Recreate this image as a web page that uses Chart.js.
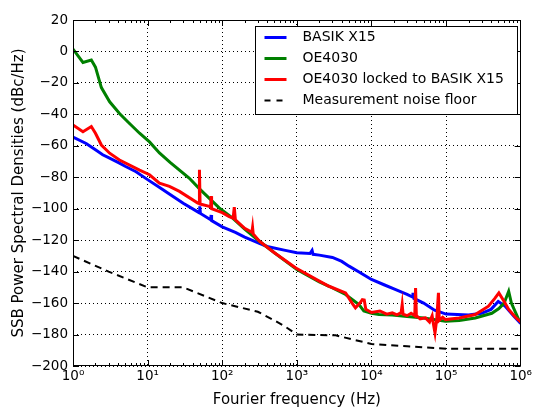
<!DOCTYPE html>
<html>
<head>
<meta charset="utf-8">
<script src="https://cdn.jsdelivr.net/npm/chart.js@4.4.1/dist/chart.umd.min.js"></script>
<style>
  html, body { margin: 0; padding: 0; background: #fff; }
</style>
</head>
<body>
<canvas id="psdChart" width="534" height="407"></canvas>
<script>
// series names (legend order)
var seriesNames = ['BASIK X15', 'OE4030', 'OE4030 locked to BASIK X15', 'Measurement noise floor'];

// BASIK X15
var basikFreq = [1, 1.5, 2, 2.5, 3, 4.2, 5, 7, 10, 15, 20, 30, 49, 50, 51, 70, 71, 72, 100, 150, 200, 315, 400, 700, 1000, 1500, 1600, 1650, 2000, 3000, 4000, 5000, 7000, 10000, 15000, 20000, 30000, 35000, 36000, 37000, 50000, 70000, 100000, 200000, 300000, 400000, 500000, 560000, 620000, 800000, 1000000];
var basikDbc = [-54.5, -58.5, -62.5, -65.7, -67.5, -71, -73, -76.5, -81.5, -87, -91, -96.5, -102.5, -98.5, -103, -107, -104, -107.5, -111.5, -115, -118, -122, -124, -126.5, -128, -128.5, -126.5, -129, -129.5, -131, -133.5, -136.5, -140.5, -145, -148.5, -151, -154.5, -156, -153.5, -157, -160, -164.5, -167, -167.5, -166.5, -164, -159, -160.5, -162, -168, -173];

// OE4030 free running
var oeFreq = [1, 1.36, 1.76, 2, 2.4, 3.1, 4.2, 5.5, 7.8, 10.6, 14.4, 20, 36, 50, 91, 138, 200, 315, 500, 1000, 2000, 2700, 4500, 6800, 7900, 10000, 12600, 19000, 30000, 50000, 98000, 150000, 246000, 410000, 510000, 600000, 690000, 750000, 940000, 1000000];
var oeDbc = [1.5, -7, -5.5, -10, -23, -32, -39.5, -45, -52, -57.5, -64.5, -70.5, -80.5, -87.5, -99.5, -106, -113, -120.7, -128, -138.7, -146.5, -149.3, -154.5, -161, -165, -166.5, -167.3, -167.5, -168.5, -169.5, -171.5, -171, -169.5, -166.5, -163.5, -160, -152.5, -160, -170.5, -172];

// OE4030 locked to BASIK X15
var lockedFreq = [1, 1.36, 1.76, 2, 2.4, 3.1, 4.2, 7.8, 10.6, 14.4, 19.6, 26.7, 47, 49, 49.5, 50.5, 67, 70, 71, 72, 100, 124, 140, 145, 150, 200, 250, 255, 260, 315, 500, 970, 2000, 2700, 4500, 5500, 6100, 7000, 7550, 8000, 8400, 10000, 13000, 16000, 19000, 22000, 25000, 25800, 26500, 30000, 34000, 38000, 39000, 40000, 45000, 53000, 60000, 65000, 68000, 71000, 75000, 79000, 81000, 90000, 98000, 150000, 246000, 370000, 450000, 510000, 600000, 690000, 850000, 1000000];
var lockedDbc = [-46.7, -51, -47.7, -52, -59.5, -64.7, -69, -75.5, -78.4, -83.7, -85.8, -89, -96.4, -96.6, -75.2, -97, -98.5, -99, -92, -100, -102.5, -105, -106, -99, -107, -112.5, -115, -112, -116, -120.7, -128, -137.7, -146, -149.3, -153.5, -160, -163, -160, -157.8, -158, -164, -166, -165, -167, -166.2, -167.5, -166, -161, -167, -168, -166.5, -168, -150.4, -168, -170, -169.4, -172, -168, -174, -179, -170, -153.5, -171, -169, -170.5, -169.5, -167.3, -162, -157, -153.5, -159, -164, -169, -172];

// measurement noise floor
var floorFreq = [1, 3, 10, 30, 100, 300, 500, 700, 1000, 3300, 10000, 30000, 100000, 1000000];
var floorDbc = [-130, -140, -150, -150, -160, -165.5, -171, -175, -180, -180.5, -186, -187.5, -189, -189];

// axis ticks
var xTickValues = [1, 10, 100, 1000, 10000, 100000, 1000000];
var xTickLabels = ['10\u2070', '10\u00b9', '10\u00b2', '10\u00b3', '10\u2074', '10\u2075', '10\u2076'];

function toPoints(xs, ys) {
    return xs.map(function (f, i) { return { x: f, y: ys[i] }; });
}

var seriesColors = ['#0000ff', '#008000', '#ff0000', '#000000'];
var seriesDash = [[], [], [], [7, 5]];

// frame + inward ticks like the matplotlib original
var frameTicks = {
    id: 'frameTicks',
    afterDatasetsDraw: function (chart) {
        var ctx = chart.ctx, a = chart.chartArea;
        var xs = chart.scales.x, ys = chart.scales.y;
        ctx.save();
        ctx.strokeStyle = '#000';
        ctx.lineWidth = 1;
        ctx.beginPath();
        for (var e = 0; e < 6; e++) {
            for (var m = 1; m <= 9; m++) {
                var px = Math.round(xs.getPixelForValue(m * Math.pow(10, e))) + 0.5;
                var len = m === 1 ? 6 : 3;
                ctx.moveTo(px, a.bottom); ctx.lineTo(px, a.bottom - len);
                ctx.moveTo(px, a.top); ctx.lineTo(px, a.top + len);
            }
        }
        for (var v = -200; v <= 20; v += 20) {
            var py = Math.round(ys.getPixelForValue(v)) + 0.5;
            ctx.moveTo(a.left, py); ctx.lineTo(a.left + 6, py);
            ctx.moveTo(a.right, py); ctx.lineTo(a.right - 6, py);
        }
        ctx.stroke();
        ctx.strokeRect(Math.round(a.left) + 0.5, Math.round(a.top) + 0.5, Math.round(a.width) - 1, Math.round(a.height) - 1);
        ctx.restore();
    }
};

// boxed legend inside the plot, upper right
var boxLegend = {
    id: 'boxLegend',
    afterDraw: function (chart) {
        var ctx = chart.ctx, a = chart.chartArea;
        var w = 262, h = 88;
        var left = Math.round(a.right - 4 - w) + 0.5, top = Math.round(a.top + 6) + 0.5;
        ctx.save();
        ctx.fillStyle = '#fff';
        ctx.fillRect(left, top, w, h);
        ctx.strokeStyle = '#000';
        ctx.lineWidth = 1;
        ctx.strokeRect(left, top, w, h);
        ctx.font = '14px "DejaVu Sans"';
        ctx.textBaseline = 'middle';
        ctx.fillStyle = '#000';
        for (var i = 0; i < seriesNames.length; i++) {
            var y = top + 11 + i * 21;
            ctx.beginPath();
            ctx.strokeStyle = seriesColors[i];
            ctx.lineWidth = i === 3 ? 2 : 3;
            ctx.setLineDash(i === 3 ? [6, 6] : []);
            ctx.moveTo(left + 9, y);
            ctx.lineTo(left + 31, y);
            ctx.stroke();
            ctx.setLineDash([]);
            ctx.fillText(seriesNames[i], left + 47, y);
        }
        ctx.restore();
    }
};

var allFreq = [basikFreq, oeFreq, lockedFreq, floorFreq];
var allDbc = [basikDbc, oeDbc, lockedDbc, floorDbc];

var datasets = seriesNames.map(function (name, i) {
    return {
        label: name,
        data: toPoints(allFreq[i], allDbc[i]),
        borderColor: seriesColors[i],
        borderWidth: i === 3 ? 2 : 3,
        borderDash: seriesDash[i],
        pointRadius: 0,
        tension: 0,
        fill: false,
        order: 4 - i
    };
});

var ctx = document.getElementById('psdChart').getContext('2d');
var psdChart = new Chart(ctx, {
    type: 'line',
    data: { datasets: datasets },
    options: {
        responsive: false,
        animation: false,
        layout: { padding: { left: 0, right: 12, top: 20, bottom: 0 } },
        scales: {
            x: {
                type: 'logarithmic',
                min: 1,
                max: 1000000,
                afterBuildTicks: function (scale) {
                    scale.ticks = xTickValues.map(function (v) { return { value: v }; });
                },
                afterFit: function (scale) { scale.height = 41; },
                ticks: {
                    autoSkip: false,
                    maxRotation: 0,
                    padding: 2,
                    color: '#000',
                    font: { family: 'DejaVu Sans', size: 13.5 },
                    callback: function (value) {
                        var k = xTickValues.indexOf(value);
                        return k >= 0 ? xTickLabels[k] : '';
                    }
                },
                grid: { color: '#000', lineWidth: 1, drawTicks: false },
                border: { display: false, dash: [1, 3] },
                title: {
                    display: true,
                    text: 'Fourier frequency (Hz)',
                    color: '#000',
                    font: { family: 'DejaVu Sans', size: 15 },
                    padding: { top: 0, bottom: -2 }
                }
            },
            y: {
                min: -200,
                max: 20,
                afterFit: function (scale) { scale.width = 73; },
                ticks: {
                    stepSize: 20,
                    padding: 5,
                    color: '#000',
                    font: { family: 'DejaVu Sans', size: 13.5 },
                    callback: function (value) {
                        return value < 0 ? '\u2212' + Math.abs(value) : String(value);
                    }
                },
                grid: { color: '#000', lineWidth: 1, drawTicks: false },
                border: { display: false, dash: [1, 3] },
                title: {
                    display: true,
                    text: 'SSB Power Spectral Densities (dBc/Hz)',
                    color: '#000',
                    font: { family: 'DejaVu Sans', size: 15 },
                    padding: { top: 10, bottom: 0 }
                }
            }
        },
        plugins: {
            legend: { display: false },
            tooltip: { enabled: false }
        }
    },
    plugins: [frameTicks, boxLegend]
});
</script>
</body>
</html>
